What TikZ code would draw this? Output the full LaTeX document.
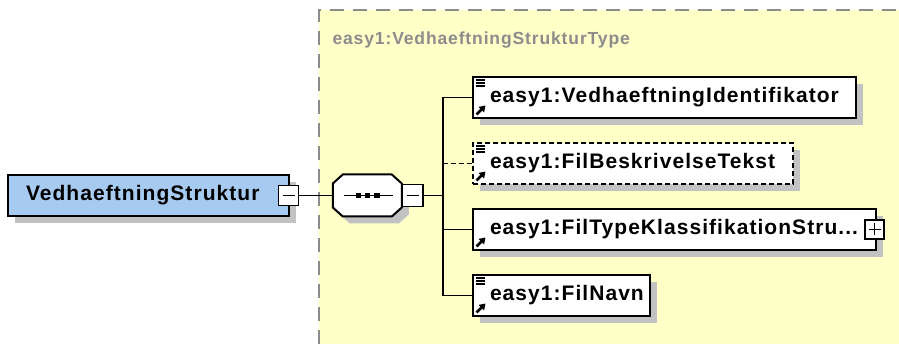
\documentclass[tikz,border=0pt]{standalone}
\usepackage{fontspec}
\newfontfamily\xsdfont[LetterSpace=5]{Liberation Sans}
\usetikzlibrary{shadows,arrows.meta}
\definecolor{typebg}{HTML}{FFFFC8}
\definecolor{typeline}{HTML}{8C8C8C}
\definecolor{elembg}{HTML}{A6CAF0}
\tikzset{
  elem/.style={rectangle, draw=black, line width=2pt, fill=white, minimum height=41pt, inner xsep=17pt, inner ysep=0pt, align=left, font=\xsdfont\bfseries\fontsize{21}{24}\selectfont, general shadow={fill=black!24, shadow xshift=7pt, shadow yshift=-7pt}},
  optelem/.style={elem, dash pattern=on 5pt off 3pt},
  toggle/.style={rectangle, draw=black, line width=1.6pt, fill=white, minimum size=20pt, inner sep=0pt},
  seqbox/.style={rectangle, minimum width=69pt, minimum height=42pt, inner sep=0pt},
  link/.style={line width=1.6pt},
  icon/.style={line width=1.2pt},
  refarrow/.style={line width=2.6pt, -{Triangle[length=6pt,width=7.5pt]}}
}
\begin{document}
\begin{tikzpicture}[x=1pt,y=-1pt]
\useasboundingbox (0,0) rectangle (899,344);
\fill[typebg] (319,10) rectangle (899,344);
\draw[typeline, line width=1.6pt, dash pattern=on 14pt off 9pt] (319,344) -- (319,10) -- (899,10);
\node [anchor=west, text=typeline, font=\xsdfont\bfseries\fontsize{17.5}{20}\selectfont] (typename) at (329,40) {easy1:VedhaeftningStrukturType};
\node [elem, fill=elembg, anchor=west, text width=245pt, inner xsep=18pt] (main) at (7,195.5) {VedhaeftningStruktur};
\node [toggle] (mtog) at (288.5,195.5) {};
\draw [icon] ([xshift=-6pt]mtog.center) -- ([xshift=6pt]mtog.center);
\node [seqbox] (seq) at (367.5,195.5) {};
\fill [black!24] ([shift={(7,7)}]seq.west) -- ++(0,-12) -- ++(10,-9) -- ++(49,0) -- ++(10,9) -- ++(0,24) -- ++(-10,9) -- ++(-49,0) -- ++(-10,-9) -- cycle;
\draw [line width=2pt, fill=white] (seq.west) -- ++(0,-12) -- ++(10,-9) -- ++(49,0) -- ++(10,9) -- ++(0,24) -- ++(-10,9) -- ++(-49,0) -- ++(-10,-9) -- cycle;
\draw [link] ([xshift=-24pt]seq.center) -- ([xshift=25pt]seq.center);
\fill ([shift={(-12,-2.75)}]seq.center) rectangle +(5.5,5.5);
\fill ([shift={(-2.75,-2.75)}]seq.center) rectangle +(5.5,5.5);
\fill ([shift={(6.5,-2.75)}]seq.center) rectangle +(5.5,5.5);
\node [toggle, minimum height=22pt, minimum width=21pt] (stog) at (412.5,195.5) {};
\draw [icon] ([xshift=-6pt]stog.center) -- ([xshift=6pt]stog.center);
\coordinate (bus) at (443,195.5);
\node [elem, anchor=west, text width=349pt] (c1) at (472,97.5) {easy1:VedhaeftningIdentifikator};
\node [optelem, anchor=west, text width=286pt] (c2) at (472,163.5) {easy1:FilBeskrivelseTekst};
\node [elem, anchor=west, text width=369pt] (c3) at (472,229.5) {easy1:FilTypeKlassifikationStru...};
\node [elem, anchor=west, text width=143pt] (c4) at (472,295.5) {easy1:FilNavn};
\node [toggle, minimum size=19pt] (ptog) at (874.5,229.5) {};
\draw [icon] ([xshift=-6pt]ptog.center) -- ([xshift=6pt]ptog.center);
\draw [icon] ([yshift=-6pt]ptog.center) -- ([yshift=6pt]ptog.center);
\draw [link] (mtog) -- (seq);
\draw [link] (stog) -- (bus);
\draw [link] (bus) |- (c1.west);
\draw [link] (bus) |- (c4.west);
\draw [link, dash pattern=on 5pt off 3pt] (bus |- c2.west) -- (c2.west);
\draw [link] (bus |- c3.west) -- (c3.west);
\foreach \c in {c1,c2,c4} {
  \draw [icon] ([shift={(3.5,4)}]\c.north west) -- +(9,0);
  \draw [icon] ([shift={(3.5,7)}]\c.north west) -- +(9,0);
  \draw [icon] ([shift={(3.5,10)}]\c.north west) -- +(9,0);
}
\foreach \c in {c1,c2,c3,c4} {
  \draw [refarrow] ([shift={(4.5,-4.5)}]\c.south west) -- ([shift={(13.5,-13.5)}]\c.south west);
}
\end{tikzpicture}
\end{document}
